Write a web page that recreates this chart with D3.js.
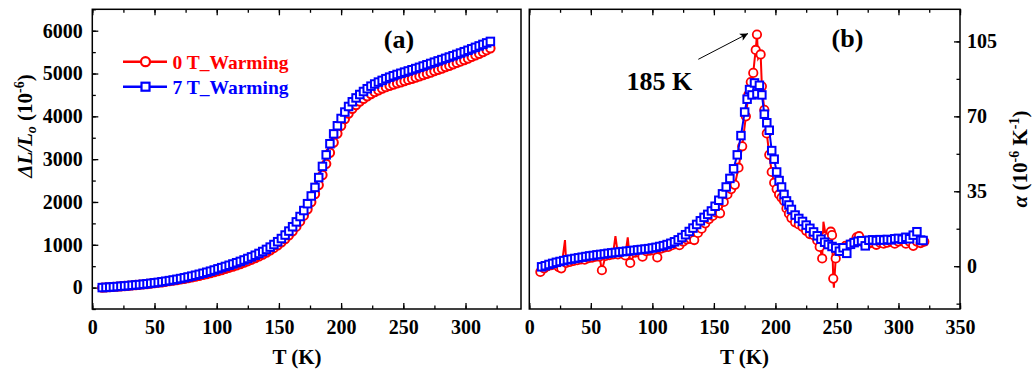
<!DOCTYPE html>
<html><head><meta charset="utf-8">
<script src="https://cdn.jsdelivr.net/npm/d3@7"></script>
<style>
html,body{margin:0;padding:0;background:#fff;}
svg text{font-family:"Liberation Serif","Times New Roman",serif;font-weight:bold;fill:#000;}
</style></head><body>
<svg id="chart" width="1034" height="373"></svg>
<script>
// ---- panel (a): thermal strain dL/L0 (1e-6) versus temperature ----
const strainT = [8,11,14,17,20,23,26,29,32,35,38,41,44,47,50,53,56,59,62,65,68,71,74,77,80,83,86,89,92,95,98,101,104,107,110,113,116,119,122,125,128,131,134,137,140,143,146,149,152,155,158,161,164,167,170,173,176,179,182,185,188,191,194,197,200,203,206,209,212,215,218,221,224,227,230,233,236,239,242,245,248,251,254,257,260,263,266,269,272,275,278,281,284,287,290,293,296,299,302,305,308,311,314,317,320];
const strain0T = [0,5,10,16,23,30,37,44,52,60,68,76,85,95,105,115,126,138,150,163,177,192,207,223,240,258,277,297,318,340,363,387,412,438,465,493,522,552,584,617,652,689,729,772,819,870,926,988,1057,1134,1220,1316,1424,1545,1680,1830,1998,2185,2395,2630,2890,3150,3390,3600,3780,3935,4065,4175,4265,4345,4410,4470,4522,4568,4610,4648,4682,4713,4742,4770,4797,4824,4851,4879,4907,4936,4965,4995,5025,5056,5087,5118,5150,5182,5215,5248,5282,5316,5351,5388,5425,5463,5502,5545,5590];
const strain7T = [0,5,11,17,24,31,38,46,54,62,70,79,89,100,111,122,135,149,163,178,194,211,229,248,268,289,311,334,358,383,410,438,466,494,522,551,581,612,645,680,717,756,798,843,892,946,1006,1072,1146,1228,1320,1422,1535,1660,1800,1960,2140,2340,2570,2830,3100,3360,3590,3780,3950,4100,4230,4340,4430,4510,4580,4645,4705,4755,4800,4840,4880,4915,4948,4978,5006,5033,5060,5088,5116,5145,5175,5205,5235,5265,5295,5325,5355,5385,5415,5446,5478,5510,5543,5577,5611,5645,5680,5715,5750];

// ---- panel (b): thermal expansion coefficient alpha (1e-6 K^-1) ----
const alpha7T_T = [10,13,16,19,22,25,28,31,34,37,40,43,46,49,52,55,58,61,64,67,70,73,76,79,82,85,88,91,94,97,100,103,106,109,112,115,118,121,124,127,130,133,136,139,142,145,148,151,154,157,160,163,166,169,172,175,177,179,181,183,185,187,189,191,193,195,197,199,201,203,205,207,209,211,213,216,219,222,225,228,231,234,237,240,243,246,249,252,255,258,261,264,267,270,273,276,279,282,285,288,291,294,297,300,303,306,309,312,315,318,320];
const alpha7T = [-0.3,0.2,0.8,1.3,1.8,2.2,2.6,3.0,3.3,3.6,3.9,4.2,4.5,4.8,5.0,5.3,5.5,5.7,6.0,6.2,6.4,6.6,6.8,7.0,7.2,7.4,7.6,7.8,8.0,8.2,8.5,8.8,9.2,9.6,10.1,10.7,11.4,12.3,13.4,14.7,16.2,17.8,19.5,21.2,22.8,24.2,25.8,28.0,30.8,33.8,37.0,41.0,45.5,52.0,61.0,72.0,78.0,82.5,80.0,85.6,80.5,84.5,80.0,71.0,67.0,63.5,54.0,50.0,44.0,40.0,37.0,33.5,30.5,28.6,26.5,23.9,22.3,20.9,19.2,17.7,16.0,14.2,12.6,11.2,10.1,9.2,8.5,7.0,8.6,6.0,10.2,11.0,11.6,11.9,9.5,12.1,12.3,12.0,12.4,12.2,12.5,12.3,12.8,13.0,12.6,13.5,12.8,14.5,16.1,12.2,12.0];
const alpha0T_T = [9,12,15,18,21,24,26,29,30,33,36,39,42,45,48,51,54,57,59,62,65,68,70,72,75,78,80,82,86,89,92,95,98,101,104,107,110,113,116,119,122,125,128,131,134,137,140,143,146,149,152,155,158,161,164,167,170,173,176,178,180,182,183,184,185,186,188,189,191,193,195,197,199,201,203,205,207,209,211,213,216,219,222,225,228,231,234,236,238,239,241,243,245,246,247,247.5,249,251,254,257,260,263,266,268,270,273,276,279,282,285,288,291,294,297,300,303,306,309,312,315,318,321];
const alpha0T = [-2.7,-1.0,0.0,0.5,1.0,-0.5,-1.0,12.2,1.5,2.0,2.5,2.8,3.2,3.0,3.8,4.0,4.4,4.5,-1.9,4.8,5.2,5.5,14.0,5.5,6.2,5.0,13.5,1.5,6.3,6.5,4.4,7.0,7.3,7.5,4.1,8.2,8.8,9.0,9.8,10.3,9.8,11.5,12.5,12.8,12.2,15.5,17.5,20.0,22.0,23.5,25.0,24.7,30.0,33.5,36.0,38.0,46.0,56.0,70.0,80.0,86.0,90.3,96.0,101.0,108.2,97.0,98.9,84.0,73.0,62.0,52.0,44.0,39.0,36.0,33.5,32.0,30.5,27.0,24.5,22.5,20.5,19.5,18.4,16.5,15.0,14.5,12.0,9.0,3.6,20.8,14.0,13.5,16.1,14.5,-5.8,-10.0,3.6,7.0,8.5,9.5,10.0,11.0,13.5,14.0,11.5,10.5,10.5,11.0,10.0,11.0,10.5,11.0,11.5,10.5,11.5,12.0,10.5,11.5,9.5,11.5,10.8,11.5];
// readings of the 0 T line that carry no symbol
const alpha0TLineOnly = [29,70,80,183,186,239,247.5];

// ---- axis ticks and labels ----
const tempTicks = [0,50,100,150,200,250,300];
const tempTicksB = [0,50,100,150,200,250,300,350];
const strainTicks = [0,1000,2000,3000,4000,5000,6000];
const alphaTicks = [0,35,70,105];
const seriesNames = ["0 T_Warming","7 T_Warming"];
const seriesColors = ["#ff0000","#0000ff"];

const svg = d3.select("#chart");
const FS = 20;

const xA = d3.scaleLinear([0, 344.6], [92.3, 521]);
const yA = d3.scaleLinear([-500, 6500], [309, 9.3]);
const xB = d3.scaleLinear([0, 350], [529.3, 960]);
const yB = d3.scaleLinear([-20, 120], [309, 9.3]);

function minor(scale, step) {
  const [a, b] = scale.domain();
  const out = [];
  for (let v = Math.ceil(a / step) * step; v <= b + 1e-9; v += step) out.push(+v.toFixed(4));
  return out;
}

function axisGroup(axis, tx, ty, labels) {
  const g = svg.append("g").attr("transform", `translate(${tx},${ty})`).call(axis);
  g.select(".domain").remove();
  g.selectAll("line").attr("stroke", "#000").attr("stroke-width", 1.3);
  if (!labels) g.selectAll("text").remove();
  else g.selectAll("text").style("font-size", FS + "px").attr("fill", "#000");
  g.attr("font-family", null).attr("font-size", null);
  return g;
}

// panel (a) axes
axisGroup(d3.axisBottom(xA).tickValues(tempTicks).tickSizeInner(-6).tickSizeOuter(0).tickPadding(11).tickFormat(d3.format("d")), 0, 309, true);
axisGroup(d3.axisBottom(xA).tickValues(minor(xA, 25)).tickSizeInner(-3.5).tickSizeOuter(0), 0, 309, false);
axisGroup(d3.axisTop(xA).tickValues(tempTicks).tickSizeInner(-6).tickSizeOuter(0), 0, 9.3, false);
axisGroup(d3.axisTop(xA).tickValues(minor(xA, 25)).tickSizeInner(-3.5).tickSizeOuter(0), 0, 9.3, false);
axisGroup(d3.axisLeft(yA).tickValues(strainTicks).tickSizeInner(-6).tickSizeOuter(0).tickPadding(9.5).tickFormat(d3.format("d")), 92.3, 0, true);
axisGroup(d3.axisLeft(yA).tickValues(minor(yA, 500)).tickSizeInner(-3.5).tickSizeOuter(0), 92.3, 0, false);

// panel (b) axes
axisGroup(d3.axisBottom(xB).tickValues(tempTicksB).tickSizeInner(-6).tickSizeOuter(0).tickPadding(11).tickFormat(d3.format("d")), 0, 309, true);
axisGroup(d3.axisBottom(xB).tickValues(minor(xB, 25)).tickSizeInner(-3.5).tickSizeOuter(0), 0, 309, false);
axisGroup(d3.axisTop(xB).tickValues(tempTicksB).tickSizeInner(-6).tickSizeOuter(0), 0, 9.3, false);
axisGroup(d3.axisTop(xB).tickValues(minor(xB, 25)).tickSizeInner(-3.5).tickSizeOuter(0), 0, 9.3, false);
axisGroup(d3.axisRight(yB).tickValues(alphaTicks).tickSizeInner(-6).tickSizeOuter(0).tickPadding(7).tickFormat(d3.format("d")), 960, 0, true);
axisGroup(d3.axisRight(yB).tickValues(minor(yB, 17.5)).tickSizeInner(-3.5).tickSizeOuter(0), 960, 0, false);

// frames
svg.append("rect").attr("x", xA.range()[0]).attr("y", yA.range()[1])
  .attr("width", xA.range()[1] - xA.range()[0]).attr("height", yA.range()[0] - yA.range()[1])
  .attr("fill", "none").attr("stroke", "#000").attr("stroke-width", 1.5);
svg.append("rect").attr("x", xB.range()[0]).attr("y", yB.range()[1])
  .attr("width", xB.range()[1] - xB.range()[0]).attr("height", yB.range()[0] - yB.range()[1])
  .attr("fill", "none").attr("stroke", "#000").attr("stroke-width", 1.5);

// ---- panel (a) data ----
const dataA0 = strainT.map((t, i) => [t, strain0T[i]]);
const dataA7 = strainT.map((t, i) => [t, strain7T[i]]);
const lineA = d3.line().x(d => xA(d[0])).y(d => yA(d[1]));
const gA = svg.append("g");
gA.append("path").datum(dataA0).attr("d", lineA).attr("fill", "none").attr("stroke", seriesColors[0]).attr("stroke-width", 2);
gA.selectAll("circle.r").data(dataA0).join("circle").attr("class", "r")
  .attr("cx", d => xA(d[0])).attr("cy", d => yA(d[1])).attr("r", 4.2)
  .attr("fill", "#fff").attr("stroke", seriesColors[0]).attr("stroke-width", 2);
gA.append("path").datum(dataA7).attr("d", lineA).attr("fill", "none").attr("stroke", seriesColors[1]).attr("stroke-width", 2);
const sqA = 7.5;
gA.selectAll("rect.b").data(dataA7).join("rect").attr("class", "b")
  .attr("x", d => xA(d[0]) - sqA / 2).attr("y", d => yA(d[1]) - sqA / 2)
  .attr("width", sqA).attr("height", sqA)
  .attr("fill", "#fff").attr("stroke", seriesColors[1]).attr("stroke-width", 2);

// ---- panel (b) data ----
const dataB0 = alpha0T_T.map((t, i) => [t, alpha0T[i]]);
const dataB7 = alpha7T_T.map((t, i) => [t, alpha7T[i]]);
const lineB = d3.line().x(d => xB(d[0])).y(d => yB(d[1]));
const gB = svg.append("g");
gB.append("path").datum(dataB0).attr("d", lineB).attr("fill", "none").attr("stroke", seriesColors[0]).attr("stroke-width", 2);
gB.selectAll("circle").data(dataB0.filter(d => !alpha0TLineOnly.includes(d[0]))).join("circle")
  .attr("cx", d => xB(d[0])).attr("cy", d => yB(d[1])).attr("r", 4.2)
  .attr("fill", "#fff").attr("stroke", seriesColors[0]).attr("stroke-width", 1.8);
gB.append("path").datum(dataB7).attr("d", lineB).attr("fill", "none").attr("stroke", seriesColors[1]).attr("stroke-width", 2);
const sqB = 7.5;
gB.selectAll("rect").data(dataB7).join("rect")
  .attr("x", d => xB(d[0]) - sqB / 2).attr("y", d => yB(d[1]) - sqB / 2)
  .attr("width", sqB).attr("height", sqB)
  .attr("fill", "#fff").attr("stroke", seriesColors[1]).attr("stroke-width", 2);

// ---- legend ----
const leg = svg.append("g");
seriesNames.forEach((name, i) => {
  const y = 61.7 + i * 25;
  leg.append("line").attr("x1", 123).attr("x2", 167).attr("y1", y).attr("y2", y)
    .attr("stroke", seriesColors[i]).attr("stroke-width", 2.5);
  if (i === 0) leg.append("circle").attr("cx", 145.5).attr("cy", y).attr("r", 4.5)
    .attr("fill", "#fff").attr("stroke", seriesColors[i]).attr("stroke-width", 2.2);
  else leg.append("rect").attr("x", 145.5 - 4).attr("y", y - 4).attr("width", 8).attr("height", 8)
    .attr("fill", "#fff").attr("stroke", seriesColors[i]).attr("stroke-width", 2.2);
  leg.append("text").attr("x", 172.5).attr("y", y + 6.8).text(name)
    .style("font-size", "19.5px").style("fill", seriesColors[i]);
});

// ---- panel tags, annotation ----
svg.append("text").attr("x", 399).attr("y", 48).attr("text-anchor", "middle").style("font-size", "26px").text("(a)");
svg.append("text").attr("x", 847.5).attr("y", 47).attr("text-anchor", "middle").style("font-size", "26px").text("(b)");
svg.append("text").attr("x", 626.5).attr("y", 90).style("font-size", "26px").text("185 K");

svg.append("defs").append("marker").attr("id", "ah").attr("viewBox", "0 0 10 10")
  .attr("refX", 10).attr("refY", 5).attr("markerWidth", 10).attr("markerHeight", 8)
  .attr("markerUnits", "userSpaceOnUse").attr("orient", "auto")
  .append("path").attr("d", "M0,0 L10,5 L0,10 L2.5,5 Z").attr("fill", "#000");
svg.append("line").attr("x1", 698.3).attr("y1", 59.3).attr("x2", 748).attr("y2", 33.5)
  .attr("stroke", "#000").attr("stroke-width", 1).attr("marker-end", "url(#ah)");

// ---- axis titles ----
svg.append("text").attr("x", 297).attr("y", 364).attr("text-anchor", "middle").style("font-size", "21px").text("T (K)");
svg.append("text").attr("x", 744.5).attr("y", 364).attr("text-anchor", "middle").style("font-size", "21px").text("T (K)");

const yl = svg.append("text").attr("transform", "translate(32,126) rotate(-90)").attr("text-anchor", "middle").style("font-size", "21px");
yl.append("tspan").style("font-style", "italic").text("ΔL/L");
yl.append("tspan").style("font-style", "italic").style("font-size", "14px").attr("dy", 4).text("o");
yl.append("tspan").attr("dy", -4).text(" (10");
yl.append("tspan").style("font-size", "14px").attr("dy", -8).text("-6");
yl.append("tspan").attr("dy", 8).text(")");

const yr = svg.append("text").attr("transform", "translate(1027,159) rotate(-90)").attr("text-anchor", "middle").style("font-size", "21px");
yr.append("tspan").style("font-style", "italic").text("α");
yr.append("tspan").text(" (10");
yr.append("tspan").style("font-size", "14px").attr("dy", -8).text("-6");
yr.append("tspan").attr("dy", 8).text(" K");
yr.append("tspan").style("font-size", "14px").attr("dy", -8).text("-1");
yr.append("tspan").attr("dy", 8).text(")");
</script>
</body></html>
